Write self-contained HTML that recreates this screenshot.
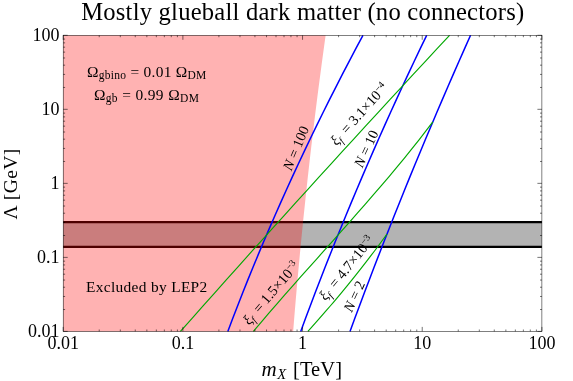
<!DOCTYPE html>
<html><head><meta charset="utf-8"><title>plot</title>
<style>
html,body{margin:0;padding:0;background:#fff;}
body{width:573px;height:381px;overflow:hidden;}
svg{display:block;will-change:transform;font-family:"Liberation Serif",serif;fill:#000;}
</style></head><body>
<svg width="573" height="381" viewBox="0 0 573 381">
<rect width="573" height="381" fill="#fff"/>
<!-- gray band -->
<rect x="63.2" y="222.2" width="478.7" height="24.700000000000017" fill="#b3b3b3"/>
<path d="M63.2,222.2 H541.9 M63.2,246.9 H541.9" stroke="#000" stroke-width="2.2" fill="none"/>
<!-- pink -->
<path d="M63.2,35.3 L325.64,35.30 L324.22,45.51 L322.82,55.72 L321.44,65.93 L320.08,76.14 L318.75,86.35 L317.43,96.56 L316.14,106.77 L314.87,116.98 L313.62,127.19 L312.39,137.40 L311.18,147.61 L310.00,157.82 L308.84,168.03 L307.69,178.24 L306.57,188.46 L305.48,198.67 L304.40,208.88 L303.34,219.09 L302.31,229.30 L301.30,239.51 L300.31,249.72 L299.34,259.93 L298.39,270.14 L297.46,280.35 L296.56,290.56 L295.68,300.77 L294.81,310.98 L293.97,321.19 L293.16,331.40 L63.2,331.4 Z" fill="rgb(255,0,0)" fill-opacity="0.3"/>
<!-- blue -->
<g fill="none" stroke="#0000ff" stroke-width="1.5">
<path d="M362.95,35.30 L356.08,48.17 L349.29,61.05 L342.60,73.92 L336.00,86.80 L329.49,99.67 L323.07,112.54 L316.74,125.42 L310.50,138.29 L304.35,151.17 L298.29,164.04 L292.32,176.91 L286.45,189.79 L280.66,202.66 L274.97,215.53 L269.37,228.41 L263.85,241.28 L258.43,254.16 L253.10,267.03 L247.86,279.90 L242.71,292.78 L237.65,305.65 L232.69,318.53 L227.81,331.40"/>
<path d="M426.67,35.30 L420.47,48.17 L414.35,61.05 L408.29,73.92 L402.29,86.80 L396.36,99.67 L390.49,112.54 L384.69,125.42 L378.95,138.29 L373.28,151.17 L367.67,164.04 L362.13,176.91 L356.66,189.79 L351.24,202.66 L345.90,215.53 L340.62,228.41 L335.40,241.28 L330.25,254.16 L325.16,267.03 L320.14,279.90 L315.18,292.78 L310.29,305.65 L305.47,318.53 L300.71,331.40"/>
<path d="M470.56,35.30 L464.82,48.17 L459.12,61.05 L453.47,73.92 L447.87,86.80 L442.31,99.67 L436.79,112.54 L431.32,125.42 L425.90,138.29 L420.52,151.17 L415.19,164.04 L409.90,176.91 L404.66,189.79 L399.46,202.66 L394.31,215.53 L389.20,228.41 L384.14,241.28 L379.13,254.16 L374.16,267.03 L369.24,279.90 L364.36,292.78 L359.53,305.65 L354.74,318.53 L350.00,331.40"/>
</g>
<!-- green -->
<g fill="none" stroke="rgb(0,168,0)" stroke-width="1.15">
<path d="M449.55,35.30 L437.57,48.17 L425.60,61.05 L413.67,73.92 L401.76,86.80 L389.88,99.67 L378.02,112.54 L366.19,125.42 L354.39,138.29 L342.61,151.17 L330.86,164.04 L319.13,176.91 L307.43,189.79 L295.75,202.66 L284.11,215.53 L272.48,228.41 L260.89,241.28 L249.31,254.16 L237.77,267.03 L226.25,279.90 L214.76,292.78 L203.29,305.65 L191.85,318.53 L180.43,331.40"/>
<path d="M432.84,121.85 L425.93,130.96 L418.85,140.07 L411.61,149.18 L404.22,158.29 L396.71,167.40 L389.07,176.51 L381.32,185.62 L373.49,194.73 L365.56,203.85 L357.58,212.96 L349.53,222.07 L341.44,231.18 L333.33,240.29 L325.19,249.40 L317.05,258.51 L308.93,267.62 L300.82,276.73 L292.74,285.84 L284.72,294.96 L276.75,304.07 L268.86,313.18 L261.06,322.29 L253.35,331.40"/>
<path d="M386.99,234.04 L383.91,238.28 L380.81,242.51 L377.67,246.74 L374.50,250.98 L371.29,255.21 L368.06,259.44 L364.78,263.67 L361.48,267.91 L358.14,272.14 L354.77,276.37 L351.36,280.61 L347.93,284.84 L344.45,289.07 L340.95,293.30 L337.41,297.54 L333.84,301.77 L330.24,306.00 L326.60,310.24 L322.93,314.47 L319.22,318.70 L315.48,322.93 L311.71,327.17 L307.91,331.40"/>
</g>
<!-- frame -->
<rect x="63.2" y="35.3" width="478.7" height="296.09999999999997" fill="none" stroke="#000" stroke-width="0.5"/>
<path d="M63.20,331.4 v-4.5 M63.20,35.3 v4.5 M63.2,331.40 h4.5 M541.9,331.40 h-4.5 M99.23,331.4 v-1.9 M99.23,35.3 v1.9 M63.2,309.52 h1.9 M541.9,309.52 h-1.9 M120.30,331.4 v-1.9 M120.30,35.3 v1.9 M63.2,296.48 h1.9 M541.9,296.48 h-1.9 M135.25,331.4 v-1.9 M135.25,35.3 v1.9 M63.2,287.23 h1.9 M541.9,287.23 h-1.9 M146.85,331.4 v-1.9 M146.85,35.3 v1.9 M63.2,280.06 h1.9 M541.9,280.06 h-1.9 M156.33,331.4 v-1.9 M156.33,35.3 v1.9 M63.2,274.20 h1.9 M541.9,274.20 h-1.9 M164.34,331.4 v-1.9 M164.34,35.3 v1.9 M63.2,269.24 h1.9 M541.9,269.24 h-1.9 M171.28,331.4 v-1.9 M171.28,35.3 v1.9 M63.2,264.95 h1.9 M541.9,264.95 h-1.9 M177.40,331.4 v-1.9 M177.40,35.3 v1.9 M63.2,261.16 h1.9 M541.9,261.16 h-1.9 M182.88,331.4 v-4.5 M182.88,35.3 v4.5 M63.2,257.38 h4.5 M541.9,257.38 h-4.5 M218.90,331.4 v-1.9 M218.90,35.3 v1.9 M63.2,235.49 h1.9 M541.9,235.49 h-1.9 M239.97,331.4 v-1.9 M239.97,35.3 v1.9 M63.2,222.46 h1.9 M541.9,222.46 h-1.9 M254.93,331.4 v-1.9 M254.93,35.3 v1.9 M63.2,213.21 h1.9 M541.9,213.21 h-1.9 M266.52,331.4 v-1.9 M266.52,35.3 v1.9 M63.2,206.03 h1.9 M541.9,206.03 h-1.9 M276.00,331.4 v-1.9 M276.00,35.3 v1.9 M63.2,200.17 h1.9 M541.9,200.17 h-1.9 M284.01,331.4 v-1.9 M284.01,35.3 v1.9 M63.2,195.22 h1.9 M541.9,195.22 h-1.9 M290.95,331.4 v-1.9 M290.95,35.3 v1.9 M63.2,190.92 h1.9 M541.9,190.92 h-1.9 M297.07,331.4 v-1.9 M297.07,35.3 v1.9 M63.2,187.14 h1.9 M541.9,187.14 h-1.9 M302.55,331.4 v-4.5 M302.55,35.3 v4.5 M63.2,183.35 h4.5 M541.9,183.35 h-4.5 M338.58,331.4 v-1.9 M338.58,35.3 v1.9 M63.2,161.47 h1.9 M541.9,161.47 h-1.9 M359.65,331.4 v-1.9 M359.65,35.3 v1.9 M63.2,148.43 h1.9 M541.9,148.43 h-1.9 M374.60,331.4 v-1.9 M374.60,35.3 v1.9 M63.2,139.18 h1.9 M541.9,139.18 h-1.9 M386.20,331.4 v-1.9 M386.20,35.3 v1.9 M63.2,132.01 h1.9 M541.9,132.01 h-1.9 M395.68,331.4 v-1.9 M395.68,35.3 v1.9 M63.2,126.15 h1.9 M541.9,126.15 h-1.9 M403.69,331.4 v-1.9 M403.69,35.3 v1.9 M63.2,121.19 h1.9 M541.9,121.19 h-1.9 M410.63,331.4 v-1.9 M410.63,35.3 v1.9 M63.2,116.90 h1.9 M541.9,116.90 h-1.9 M416.75,331.4 v-1.9 M416.75,35.3 v1.9 M63.2,113.11 h1.9 M541.9,113.11 h-1.9 M422.22,331.4 v-4.5 M422.22,35.3 v4.5 M63.2,109.32 h4.5 M541.9,109.32 h-4.5 M458.25,331.4 v-1.9 M458.25,35.3 v1.9 M63.2,87.44 h1.9 M541.9,87.44 h-1.9 M479.32,331.4 v-1.9 M479.32,35.3 v1.9 M63.2,74.41 h1.9 M541.9,74.41 h-1.9 M494.28,331.4 v-1.9 M494.28,35.3 v1.9 M63.2,65.16 h1.9 M541.9,65.16 h-1.9 M505.87,331.4 v-1.9 M505.87,35.3 v1.9 M63.2,57.98 h1.9 M541.9,57.98 h-1.9 M515.35,331.4 v-1.9 M515.35,35.3 v1.9 M63.2,52.12 h1.9 M541.9,52.12 h-1.9 M523.36,331.4 v-1.9 M523.36,35.3 v1.9 M63.2,47.17 h1.9 M541.9,47.17 h-1.9 M530.30,331.4 v-1.9 M530.30,35.3 v1.9 M63.2,42.87 h1.9 M541.9,42.87 h-1.9 M536.42,331.4 v-1.9 M536.42,35.3 v1.9 M63.2,39.09 h1.9 M541.9,39.09 h-1.9 M541.90,331.4 v-4.5 M541.90,35.3 v4.5 M63.2,35.30 h4.5 M541.9,35.30 h-4.5" stroke="#000" stroke-width="0.55" fill="none"/>
<!-- labels -->
<g font-size="18px"><text x="63.20" y="349.3" text-anchor="middle">0.01</text><text x="182.88" y="349.3" text-anchor="middle">0.1</text><text x="302.55" y="349.3" text-anchor="middle">1</text><text x="422.22" y="349.3" text-anchor="middle">10</text><text x="541.90" y="349.3" text-anchor="middle">100</text><text x="59.5" y="337.30" text-anchor="end">0.01</text><text x="59.5" y="263.27" text-anchor="end">0.1</text><text x="59.5" y="189.25" text-anchor="end">1</text><text x="59.5" y="115.22" text-anchor="end">10</text><text x="59.5" y="41.20" text-anchor="end">100</text></g>
<text x="81.2" y="19.5" font-size="24.6px" textLength="443" lengthAdjust="spacing">Mostly glueball dark matter (no connectors)</text>
<text y="375.8" font-size="20.5px"><tspan x="261.6" font-style="italic" font-size="21px">m</tspan><tspan x="277.2" font-style="italic" font-size="14.5px" dy="3.5">X</tspan><tspan x="293" dy="-3.5" textLength="49" lengthAdjust="spacing">[TeV]</tspan></text>
<text transform="translate(16.5,219.4) rotate(-90)" font-size="19.6px" textLength="70.6" lengthAdjust="spacing">Λ [GeV]</text>
<g font-size="15.4px">
<text x="87" y="77" textLength="119.3" lengthAdjust="spacing">Ω<tspan font-size="11.5px" dy="2.3">gbino</tspan><tspan dy="-2.3"> = 0.01 Ω</tspan><tspan font-size="11.5px" dy="2.3">DM</tspan></text>
<text x="93.9" y="99.5" textLength="105" lengthAdjust="spacing">Ω<tspan font-size="11.5px" dy="2.3">gb</tspan><tspan dy="-2.3"> = 0.99 Ω</tspan><tspan font-size="11.5px" dy="2.3">DM</tspan></text>
<text x="86" y="292.1" textLength="121.2" lengthAdjust="spacing">Excluded by LEP2</text>
</g>
<text transform="translate(300.3,150.0) rotate(-67)" font-size="14.4px" text-anchor="middle"><tspan font-style="italic">N</tspan> = 100</text>
<text transform="translate(370.55,150.7) rotate(-65)" font-size="14.4px" text-anchor="middle"><tspan font-style="italic">N</tspan> = 10</text>
<text transform="translate(358.5,298.4) rotate(-65)" font-size="14.4px" text-anchor="middle"><tspan font-style="italic">N</tspan> = 2</text>
<text transform="translate(362.51,117.33) rotate(-48)" font-size="14.4px" text-anchor="middle"><tspan font-style="italic">ξ</tspan><tspan font-style="italic" font-size="10.0px" dy="3.2">f</tspan><tspan dy="-3.2" dx="3.2"> = 3.1×10</tspan><tspan font-size="9.5px" dy="-5">−4</tspan></text>
<text transform="translate(274.51,295.98) rotate(-49.5)" font-size="14.4px" text-anchor="middle"><tspan font-style="italic">ξ</tspan><tspan font-style="italic" font-size="10.0px" dy="3.2">f</tspan><tspan dy="-3.2" dx="3.2"> = 1.5×10</tspan><tspan font-size="9.5px" dy="-5">−3</tspan></text>
<text transform="translate(350.16,270.97) rotate(-51)" font-size="14.4px" text-anchor="middle"><tspan font-style="italic">ξ</tspan><tspan font-style="italic" font-size="10.0px" dy="3.2">f</tspan><tspan dy="-3.2" dx="3.2"> = 4.7×10</tspan><tspan font-size="9.5px" dy="-5">−3</tspan></text>
</svg>
</body></html>
